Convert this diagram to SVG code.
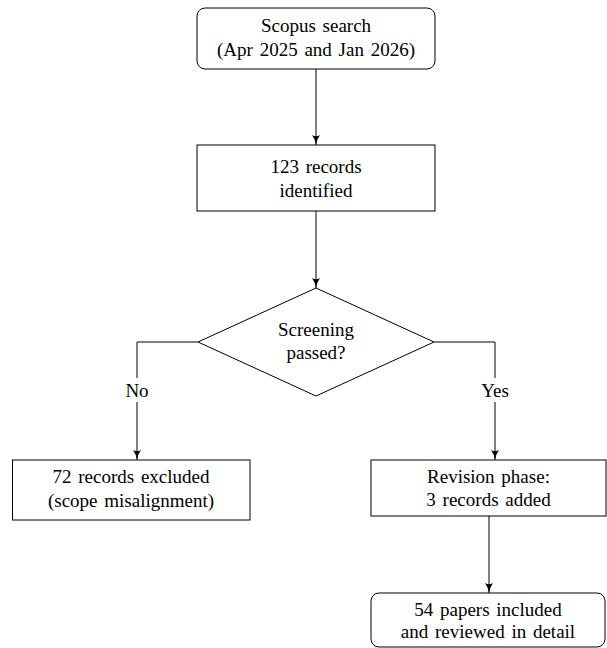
<svg xmlns="http://www.w3.org/2000/svg" width="607" height="648" viewBox="0 0 607 648">
<style>
.box{fill:#fff;stroke:#000;stroke-width:1}
.t{font-family:"Liberation Serif","Times New Roman",serif;font-size:19px;fill:#000;text-anchor:middle;word-spacing:2px}
.c{fill:none;stroke:#000;stroke-width:1}
</style>
<defs>
<marker id="ah" viewBox="0 0 10 10" refX="10" refY="5" markerWidth="10" markerHeight="10" markerUnits="userSpaceOnUse" orient="auto">
<path d="M0,1 Q4,4 10,5 Q4,6 0,9 Q2.5,5 0,1 Z" fill="#000"/>
</marker>
</defs>
<rect width="607" height="648" fill="#fff"/>
<g id="connectors">
<line class="c" x1="316" y1="68" x2="316" y2="145" marker-end="url(#ah)"/>
<line class="c" x1="316" y1="211" x2="316" y2="288" marker-end="url(#ah)"/>
<polyline class="c" points="198,342 137,342 137,460" marker-end="url(#ah)"/>
<polyline class="c" points="434,342 495,342 495,460" marker-end="url(#ah)"/>
<line class="c" x1="489" y1="516" x2="489" y2="593" marker-end="url(#ah)"/>
<rect x="122" y="378" width="30" height="24" fill="#fff"/>
<text class="t" x="137" y="397">No</text>
<rect x="478" y="378" width="34" height="24" fill="#fff"/>
<text class="t" x="495" y="397">Yes</text>
</g>
<g id="n1">
<rect class="box" x="197" y="8" width="238" height="61" rx="8"/>
<text class="t" x="316" y="32">Scopus search</text>
<text class="t" x="316" y="56">(Apr 2025 and Jan 2026)</text>
</g>
<g id="n2">
<rect class="box" x="197" y="145" width="238" height="66"/>
<text class="t" x="316" y="173">123 records</text>
<text class="t" x="316" y="197">identified</text>
</g>
<g id="n3">
<polygon class="box" points="316,288 434,342 316,396 198,342"/>
<text class="t" x="316" y="336">Screening</text>
<text class="t" x="316" y="359">passed?</text>
</g>
<g id="n4">
<rect class="box" x="12.5" y="460" width="237.5" height="60"/>
<text class="t" x="131" y="483">72 records excluded</text>
<text class="t" x="131" y="507">(scope misalignment)</text>
</g>
<g id="n5">
<rect class="box" x="371" y="460" width="235" height="56"/>
<text class="t" x="488.5" y="483">Revision phase:</text>
<text class="t" x="488.5" y="506">3 records added</text>
</g>
<g id="n6">
<rect class="box" x="371" y="593" width="234" height="54" rx="8"/>
<text class="t" x="488" y="616">54 papers included</text>
<text class="t" x="488" y="638">and reviewed in detail</text>
</g>
</svg>
